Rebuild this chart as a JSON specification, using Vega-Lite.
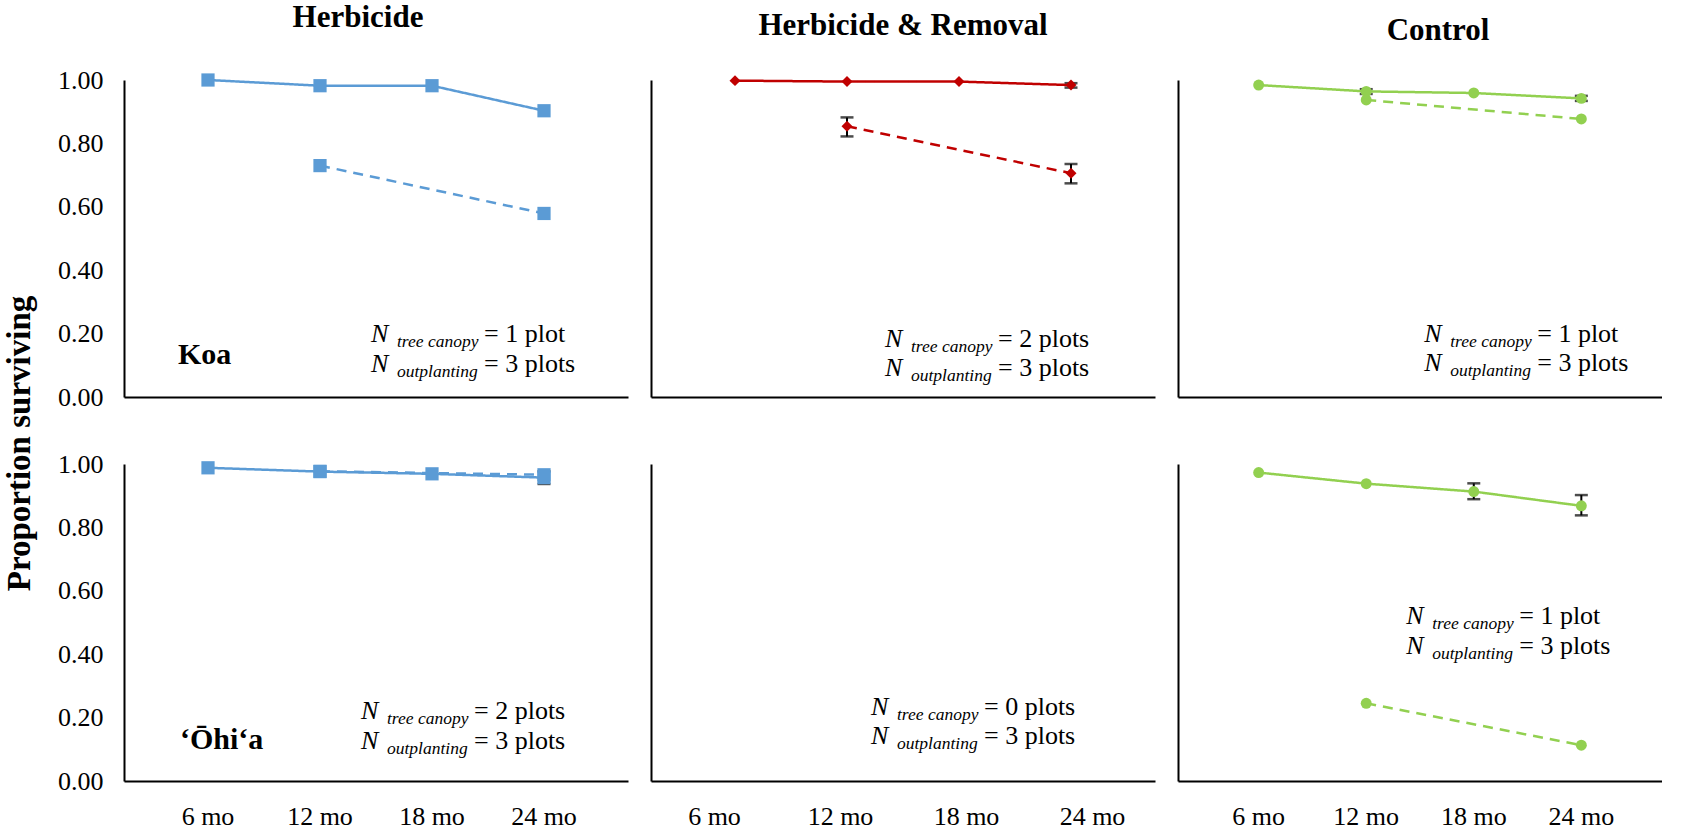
{
"$schema":"https://vega.github.io/schema/vega-lite/v6.json",
"padding":{"left":3,"top":2,"right":0,"bottom":0},
"background":"white",
"title":{"text":"Proportion surviving","orient":"left","anchor":"middle","fontSize":33,"offset":21,"dx":-28},
"config":{
 "font":"Liberation Serif",
 "view":{"stroke":null},
 "text":{"font":"Liberation Serif"},
 "axis":{"domainColor":"black","domainWidth":2,"ticks":false,"grid":false,"labelFont":"Liberation Serif","labelFontSize":26,"labelColor":"black"},
 "axisX":{"labelPadding":22,"labelAngle":0,"labelFont":"Liberation Serif"},
 "axisY":{"labelPadding":21,"labelFont":"Liberation Serif"},
 "title":{"font":"Liberation Serif","fontSize":31,"fontWeight":"bold","color":"black","offset":33}
},
"datasets":{
 "surv":[
  {"species":"Koa","treatment":"Herbicide","series":"outplanting","month":"6 mo","value":1.0},
  {"species":"Koa","treatment":"Herbicide","series":"outplanting","month":"12 mo","value":0.982},
  {"species":"Koa","treatment":"Herbicide","series":"outplanting","month":"18 mo","value":0.982},
  {"species":"Koa","treatment":"Herbicide","series":"outplanting","month":"24 mo","value":0.903},
  {"species":"Koa","treatment":"Herbicide","series":"tree canopy","month":"12 mo","value":0.73},
  {"species":"Koa","treatment":"Herbicide","series":"tree canopy","month":"24 mo","value":0.579},
  {"species":"Koa","treatment":"Herbicide & Removal","series":"outplanting","month":"6 mo","value":0.998},
  {"species":"Koa","treatment":"Herbicide & Removal","series":"outplanting","month":"12 mo","value":0.995},
  {"species":"Koa","treatment":"Herbicide & Removal","series":"outplanting","month":"18 mo","value":0.995},
  {"species":"Koa","treatment":"Herbicide & Removal","series":"outplanting","month":"24 mo","value":0.984},
  {"species":"Koa","treatment":"Herbicide & Removal","series":"tree canopy","month":"12 mo","value":0.854},
  {"species":"Koa","treatment":"Herbicide & Removal","series":"tree canopy","month":"24 mo","value":0.706},
  {"species":"Koa","treatment":"Control","series":"outplanting","month":"6 mo","value":0.984},
  {"species":"Koa","treatment":"Control","series":"outplanting","month":"12 mo","value":0.964},
  {"species":"Koa","treatment":"Control","series":"outplanting","month":"18 mo","value":0.959},
  {"species":"Koa","treatment":"Control","series":"outplanting","month":"24 mo","value":0.942},
  {"species":"Koa","treatment":"Control","series":"tree canopy","month":"12 mo","value":0.937},
  {"species":"Koa","treatment":"Control","series":"tree canopy","month":"24 mo","value":0.877},
  {"species":"‘Ōhi‘a","treatment":"Herbicide","series":"outplanting","month":"6 mo","value":0.988},
  {"species":"‘Ōhi‘a","treatment":"Herbicide","series":"outplanting","month":"12 mo","value":0.976},
  {"species":"‘Ōhi‘a","treatment":"Herbicide","series":"outplanting","month":"18 mo","value":0.969},
  {"species":"‘Ōhi‘a","treatment":"Herbicide","series":"outplanting","month":"24 mo","value":0.957},
  {"species":"‘Ōhi‘a","treatment":"Herbicide","series":"tree canopy","month":"12 mo","value":0.977},
  {"species":"‘Ōhi‘a","treatment":"Herbicide","series":"tree canopy","month":"24 mo","value":0.966},
  {"species":"‘Ōhi‘a","treatment":"Control","series":"outplanting","month":"6 mo","value":0.973},
  {"species":"‘Ōhi‘a","treatment":"Control","series":"outplanting","month":"12 mo","value":0.938},
  {"species":"‘Ōhi‘a","treatment":"Control","series":"outplanting","month":"18 mo","value":0.913},
  {"species":"‘Ōhi‘a","treatment":"Control","series":"outplanting","month":"24 mo","value":0.868},
  {"species":"‘Ōhi‘a","treatment":"Control","series":"tree canopy","month":"12 mo","value":0.245},
  {"species":"‘Ōhi‘a","treatment":"Control","series":"tree canopy","month":"24 mo","value":0.113}
 ],
 "err":[
  {"species":"Koa","treatment":"Herbicide & Removal","series":"outplanting","month":"24 mo","lo":0.976,"hi":0.99},
  {"species":"Koa","treatment":"Herbicide & Removal","series":"tree canopy","month":"12 mo","lo":0.822,"hi":0.882},
  {"species":"Koa","treatment":"Herbicide & Removal","series":"tree canopy","month":"24 mo","lo":0.674,"hi":0.735},
  {"species":"Koa","treatment":"Control","series":"outplanting","month":"12 mo","lo":0.956,"hi":0.971},
  {"species":"Koa","treatment":"Control","series":"outplanting","month":"24 mo","lo":0.934,"hi":0.95},
  {"species":"‘Ōhi‘a","treatment":"Herbicide","series":"outplanting","month":"24 mo","lo":0.937,"hi":0.977},
  {"species":"‘Ōhi‘a","treatment":"Control","series":"outplanting","month":"18 mo","lo":0.889,"hi":0.939},
  {"species":"‘Ōhi‘a","treatment":"Control","series":"outplanting","month":"24 mo","lo":0.838,"hi":0.902}
 ],
 "notes":[
  {"species":"Koa","treatment":"Herbicide","canopy":"= 1 plot","outplanting":"= 3 plots"},
  {"species":"Koa","treatment":"Herbicide & Removal","canopy":"= 2 plots","outplanting":"= 3 plots"},
  {"species":"Koa","treatment":"Control","canopy":"= 1 plot","outplanting":"= 3 plots"},
  {"species":"‘Ōhi‘a","treatment":"Herbicide","canopy":"= 2 plots","outplanting":"= 3 plots"},
  {"species":"‘Ōhi‘a","treatment":"Herbicide & Removal","canopy":"= 0 plots","outplanting":"= 3 plots"},
  {"species":"‘Ōhi‘a","treatment":"Control","canopy":"= 1 plot","outplanting":"= 3 plots"}
 ]
},
"spacing":41,
"vconcat":[
{"spacing":23,"hconcat":[
 {"width":504,"height":317,"title":{"text":"Herbicide","dx":-18},
  "layer":[
   {"data":{"name":"err"},"transform":[{"filter":"datum.species=='Koa'&&datum.treatment=='Herbicide'"}],
    "encoding":{"x":{"field":"month","type":"nominal","sort":null,"scale":{"domain":["6 mo","12 mo","18 mo","24 mo"],"padding":0.5},"axis":{"labels":false,"title":null}},"y":{"field":"lo","type":"quantitative","scale":{"domain":[0,1],"nice":false},"axis":{"title":null,"values":[0,0.2,0.4,0.6,0.8,1],"format":".2f"}}},
    "layer":[
     {"mark":{"type":"rule","color":"black","strokeWidth":2},"encoding":{"y2":{"field":"hi"}}},
     {"mark":{"type":"tick","color":"black","size":13,"thickness":2.5}},
     {"mark":{"type":"tick","color":"black","size":13,"thickness":2.5},"encoding":{"y":{"field":"hi","type":"quantitative"}}}
    ]},
   {"data":{"name":"surv"},"transform":[{"filter":"datum.species=='Koa'&&datum.treatment=='Herbicide'"}],
    "encoding":{"x":{"field":"month","type":"nominal","sort":null,"scale":{"domain":["6 mo","12 mo","18 mo","24 mo"],"padding":0.5},"axis":{"labels":false,"title":null}},"y":{"field":"value","type":"quantitative","scale":{"domain":[0,1],"nice":false},"axis":{"title":null,"values":[0,0.2,0.4,0.6,0.8,1],"format":".2f"}}},
    "layer":[
     {"mark":{"type":"line","color":"#5B9BD5","strokeWidth":2.5},"encoding":{"strokeDash":{"field":"series","type":"nominal","scale":{"domain":["outplanting","tree canopy"],"range":[[1,0],[10,7]]},"legend":null}}},
     {"mark":{"type":"point","shape":"square","filled":true,"opacity":1,"size":175,"color":"#5B9BD5"}}
    ]},
   {"data":{"name":"notes"},"transform":[{"filter":"datum.species=='Koa'&&datum.treatment=='Herbicide'"}],
    "layer":[
     {"mark":{"type":"text","font":"Liberation Serif","fontWeight":"bold","fontSize":30,"align":"left","baseline":"alphabetic","dx":-30,"color":"black"},"encoding":{"x":{"datum":"6 mo"},"y":{"datum":0.104},"text":{"field":"species"}}},
     {"mark":{"type":"text","font":"Liberation Serif","fontStyle":"italic","fontSize":26,"align":"left","baseline":"alphabetic","dx":51,"color":"black"},"encoding":{"x":{"datum":"12 mo"},"y":{"datum":0.173},"text":{"value":"N"}}},
     {"mark":{"type":"text","font":"Liberation Serif","fontStyle":"italic","fontSize":17.5,"align":"left","baseline":"alphabetic","dx":77,"dy":5,"color":"black"},"encoding":{"x":{"datum":"12 mo"},"y":{"datum":0.173},"text":{"value":"tree canopy"}}},
     {"mark":{"type":"text","font":"Liberation Serif","fontSize":26,"align":"left","baseline":"alphabetic","dx":164,"color":"black"},"encoding":{"x":{"datum":"12 mo"},"y":{"datum":0.173},"text":{"field":"canopy"}}},
     {"mark":{"type":"text","font":"Liberation Serif","fontStyle":"italic","fontSize":26,"align":"left","baseline":"alphabetic","dx":51,"color":"black"},"encoding":{"x":{"datum":"12 mo"},"y":{"datum":0.079},"text":{"value":"N"}}},
     {"mark":{"type":"text","font":"Liberation Serif","fontStyle":"italic","fontSize":17.5,"align":"left","baseline":"alphabetic","dx":77,"dy":5,"color":"black"},"encoding":{"x":{"datum":"12 mo"},"y":{"datum":0.079},"text":{"value":"outplanting"}}},
     {"mark":{"type":"text","font":"Liberation Serif","fontSize":26,"align":"left","baseline":"alphabetic","dx":164,"color":"black"},"encoding":{"x":{"datum":"12 mo"},"y":{"datum":0.079},"text":{"field":"outplanting"}}}
    ]}
  ]},
 {"width":504,"height":317,"title":{"text":"Herbicide & Removal"},
  "layer":[
   {"data":{"name":"err"},"transform":[{"filter":"datum.species=='Koa'&&datum.treatment=='Herbicide & Removal'"}],
    "encoding":{"x":{"field":"month","type":"nominal","sort":null,"scale":{"domain":["6 mo","12 mo","18 mo","24 mo"],"padding":0.5},"axis":{"labels":false,"title":null}},"y":{"field":"lo","type":"quantitative","scale":{"domain":[0,1],"nice":false},"axis":{"title":null,"labels":false}}},
    "layer":[
     {"mark":{"type":"rule","color":"black","strokeWidth":2},"encoding":{"y2":{"field":"hi"}}},
     {"mark":{"type":"tick","color":"black","size":13,"thickness":2.5}},
     {"mark":{"type":"tick","color":"black","size":13,"thickness":2.5},"encoding":{"y":{"field":"hi","type":"quantitative"}}}
    ]},
   {"data":{"name":"surv"},"transform":[{"filter":"datum.species=='Koa'&&datum.treatment=='Herbicide & Removal'"}],
    "encoding":{"x":{"field":"month","type":"nominal","sort":null,"scale":{"domain":["6 mo","12 mo","18 mo","24 mo"],"padding":0.5},"axis":{"labels":false,"title":null}},"y":{"field":"value","type":"quantitative","scale":{"domain":[0,1],"nice":false},"axis":{"title":null,"labels":false}}},
    "layer":[
     {"mark":{"type":"line","color":"#C00000","strokeWidth":2.5},"encoding":{"strokeDash":{"field":"series","type":"nominal","scale":{"domain":["outplanting","tree canopy"],"range":[[1,0],[10,7]]},"legend":null}}},
     {"mark":{"type":"point","shape":"diamond","filled":true,"opacity":1,"size":120,"color":"#C00000"}}
    ]},
   {"data":{"name":"notes"},"transform":[{"filter":"datum.species=='Koa'&&datum.treatment=='Herbicide & Removal'"}],
    "layer":[
     {"mark":{"type":"text","font":"Liberation Serif","fontStyle":"italic","fontSize":26,"align":"left","baseline":"alphabetic","dx":38,"color":"black"},"encoding":{"x":{"datum":"12 mo"},"y":{"datum":0.158},"text":{"value":"N"}}},
     {"mark":{"type":"text","font":"Liberation Serif","fontStyle":"italic","fontSize":17.5,"align":"left","baseline":"alphabetic","dx":64,"dy":5,"color":"black"},"encoding":{"x":{"datum":"12 mo"},"y":{"datum":0.158},"text":{"value":"tree canopy"}}},
     {"mark":{"type":"text","font":"Liberation Serif","fontSize":26,"align":"left","baseline":"alphabetic","dx":151,"color":"black"},"encoding":{"x":{"datum":"12 mo"},"y":{"datum":0.158},"text":{"field":"canopy"}}},
     {"mark":{"type":"text","font":"Liberation Serif","fontStyle":"italic","fontSize":26,"align":"left","baseline":"alphabetic","dx":38,"color":"black"},"encoding":{"x":{"datum":"12 mo"},"y":{"datum":0.066},"text":{"value":"N"}}},
     {"mark":{"type":"text","font":"Liberation Serif","fontStyle":"italic","fontSize":17.5,"align":"left","baseline":"alphabetic","dx":64,"dy":5,"color":"black"},"encoding":{"x":{"datum":"12 mo"},"y":{"datum":0.066},"text":{"value":"outplanting"}}},
     {"mark":{"type":"text","font":"Liberation Serif","fontSize":26,"align":"left","baseline":"alphabetic","dx":151,"color":"black"},"encoding":{"x":{"datum":"12 mo"},"y":{"datum":0.066},"text":{"field":"outplanting"}}}
    ]}
  ]},
 {"width":484,"height":317,"title":{"text":"Control","dx":18},
  "layer":[
   {"data":{"name":"err"},"transform":[{"filter":"datum.species=='Koa'&&datum.treatment=='Control'"}],
    "encoding":{"x":{"field":"month","type":"nominal","sort":null,"scale":{"domain":["6 mo","12 mo","18 mo","24 mo"],"padding":0.5},"axis":{"labels":false,"title":null}},"y":{"field":"lo","type":"quantitative","scale":{"domain":[0,1],"nice":false},"axis":{"title":null,"labels":false}}},
    "layer":[
     {"mark":{"type":"rule","color":"black","strokeWidth":2},"encoding":{"y2":{"field":"hi"}}},
     {"mark":{"type":"tick","color":"black","size":13,"thickness":2.5}},
     {"mark":{"type":"tick","color":"black","size":13,"thickness":2.5},"encoding":{"y":{"field":"hi","type":"quantitative"}}}
    ]},
   {"data":{"name":"surv"},"transform":[{"filter":"datum.species=='Koa'&&datum.treatment=='Control'"}],
    "encoding":{"x":{"field":"month","type":"nominal","sort":null,"scale":{"domain":["6 mo","12 mo","18 mo","24 mo"],"padding":0.5},"axis":{"labels":false,"title":null}},"y":{"field":"value","type":"quantitative","scale":{"domain":[0,1],"nice":false},"axis":{"title":null,"labels":false}}},
    "layer":[
     {"mark":{"type":"line","color":"#92D050","strokeWidth":2.5},"encoding":{"strokeDash":{"field":"series","type":"nominal","scale":{"domain":["outplanting","tree canopy"],"range":[[1,0],[10,7]]},"legend":null}}},
     {"mark":{"type":"point","shape":"circle","filled":true,"opacity":1,"size":120,"color":"#92D050"}}
    ]},
   {"data":{"name":"notes"},"transform":[{"filter":"datum.species=='Koa'&&datum.treatment=='Control'"}],
    "layer":[
     {"mark":{"type":"text","font":"Liberation Serif","fontStyle":"italic","fontSize":26,"align":"left","baseline":"alphabetic","dx":58,"color":"black"},"encoding":{"x":{"datum":"12 mo"},"y":{"datum":0.173},"text":{"value":"N"}}},
     {"mark":{"type":"text","font":"Liberation Serif","fontStyle":"italic","fontSize":17.5,"align":"left","baseline":"alphabetic","dx":84,"dy":5,"color":"black"},"encoding":{"x":{"datum":"12 mo"},"y":{"datum":0.173},"text":{"value":"tree canopy"}}},
     {"mark":{"type":"text","font":"Liberation Serif","fontSize":26,"align":"left","baseline":"alphabetic","dx":171,"color":"black"},"encoding":{"x":{"datum":"12 mo"},"y":{"datum":0.173},"text":{"field":"canopy"}}},
     {"mark":{"type":"text","font":"Liberation Serif","fontStyle":"italic","fontSize":26,"align":"left","baseline":"alphabetic","dx":58,"color":"black"},"encoding":{"x":{"datum":"12 mo"},"y":{"datum":0.082},"text":{"value":"N"}}},
     {"mark":{"type":"text","font":"Liberation Serif","fontStyle":"italic","fontSize":17.5,"align":"left","baseline":"alphabetic","dx":84,"dy":5,"color":"black"},"encoding":{"x":{"datum":"12 mo"},"y":{"datum":0.082},"text":{"value":"outplanting"}}},
     {"mark":{"type":"text","font":"Liberation Serif","fontSize":26,"align":"left","baseline":"alphabetic","dx":171,"color":"black"},"encoding":{"x":{"datum":"12 mo"},"y":{"datum":0.082},"text":{"field":"outplanting"}}}
    ]}
  ]}
]},
{"spacing":23,"hconcat":[
 {"width":504,"height":317,
  "layer":[
   {"data":{"name":"err"},"transform":[{"filter":"datum.species=='‘Ōhi‘a'&&datum.treatment=='Herbicide'"}],
    "encoding":{"x":{"field":"month","type":"nominal","sort":null,"scale":{"domain":["6 mo","12 mo","18 mo","24 mo"],"padding":0.5},"axis":{"title":null}},"y":{"field":"lo","type":"quantitative","scale":{"domain":[0,1],"nice":false},"axis":{"title":null,"values":[0,0.2,0.4,0.6,0.8,1],"format":".2f"}}},
    "layer":[
     {"mark":{"type":"rule","color":"black","strokeWidth":2},"encoding":{"y2":{"field":"hi"}}},
     {"mark":{"type":"tick","color":"black","size":13,"thickness":2.5}},
     {"mark":{"type":"tick","color":"black","size":13,"thickness":2.5},"encoding":{"y":{"field":"hi","type":"quantitative"}}}
    ]},
   {"data":{"name":"surv"},"transform":[{"filter":"datum.species=='‘Ōhi‘a'&&datum.treatment=='Herbicide'"}],
    "encoding":{"x":{"field":"month","type":"nominal","sort":null,"scale":{"domain":["6 mo","12 mo","18 mo","24 mo"],"padding":0.5},"axis":{"title":null}},"y":{"field":"value","type":"quantitative","scale":{"domain":[0,1],"nice":false},"axis":{"title":null,"values":[0,0.2,0.4,0.6,0.8,1],"format":".2f"}}},
    "layer":[
     {"mark":{"type":"line","color":"#5B9BD5","strokeWidth":2.5},"encoding":{"strokeDash":{"field":"series","type":"nominal","scale":{"domain":["outplanting","tree canopy"],"range":[[1,0],[10,7]]},"legend":null}}},
     {"mark":{"type":"point","shape":"square","filled":true,"opacity":1,"size":175,"color":"#5B9BD5"}}
    ]},
   {"data":{"name":"notes"},"transform":[{"filter":"datum.species=='‘Ōhi‘a'&&datum.treatment=='Herbicide'"}],
    "layer":[
     {"mark":{"type":"text","font":"Liberation Serif","fontWeight":"bold","fontSize":30,"align":"left","baseline":"alphabetic","dx":-28,"color":"black"},"encoding":{"x":{"datum":"6 mo"},"y":{"datum":0.101},"text":{"field":"species"}}},
     {"mark":{"type":"text","font":"Liberation Serif","fontStyle":"italic","fontSize":26,"align":"left","baseline":"alphabetic","dx":41,"color":"black"},"encoding":{"x":{"datum":"12 mo"},"y":{"datum":0.196},"text":{"value":"N"}}},
     {"mark":{"type":"text","font":"Liberation Serif","fontStyle":"italic","fontSize":17.5,"align":"left","baseline":"alphabetic","dx":67,"dy":5,"color":"black"},"encoding":{"x":{"datum":"12 mo"},"y":{"datum":0.196},"text":{"value":"tree canopy"}}},
     {"mark":{"type":"text","font":"Liberation Serif","fontSize":26,"align":"left","baseline":"alphabetic","dx":154,"color":"black"},"encoding":{"x":{"datum":"12 mo"},"y":{"datum":0.196},"text":{"field":"canopy"}}},
     {"mark":{"type":"text","font":"Liberation Serif","fontStyle":"italic","fontSize":26,"align":"left","baseline":"alphabetic","dx":41,"color":"black"},"encoding":{"x":{"datum":"12 mo"},"y":{"datum":0.101},"text":{"value":"N"}}},
     {"mark":{"type":"text","font":"Liberation Serif","fontStyle":"italic","fontSize":17.5,"align":"left","baseline":"alphabetic","dx":67,"dy":5,"color":"black"},"encoding":{"x":{"datum":"12 mo"},"y":{"datum":0.101},"text":{"value":"outplanting"}}},
     {"mark":{"type":"text","font":"Liberation Serif","fontSize":26,"align":"left","baseline":"alphabetic","dx":154,"color":"black"},"encoding":{"x":{"datum":"12 mo"},"y":{"datum":0.101},"text":{"field":"outplanting"}}}
    ]}
  ]},
 {"width":504,"height":317,
  "layer":[
   {"data":{"name":"surv"},"transform":[{"filter":"datum.species=='‘Ōhi‘a'&&datum.treatment=='Herbicide & Removal'"}],
    "encoding":{"x":{"field":"month","type":"nominal","sort":null,"scale":{"domain":["6 mo","12 mo","18 mo","24 mo"],"padding":0.5},"axis":{"title":null}},"y":{"field":"value","type":"quantitative","scale":{"domain":[0,1],"nice":false},"axis":{"title":null,"labels":false}}},
    "layer":[
     {"mark":{"type":"line","color":"#C00000","strokeWidth":2.5},"encoding":{"strokeDash":{"field":"series","type":"nominal","scale":{"domain":["outplanting","tree canopy"],"range":[[1,0],[10,7]]},"legend":null}}},
     {"mark":{"type":"point","shape":"diamond","filled":true,"opacity":1,"size":120,"color":"#C00000"}}
    ]},
   {"data":{"name":"notes"},"transform":[{"filter":"datum.species=='‘Ōhi‘a'&&datum.treatment=='Herbicide & Removal'"}],
    "layer":[
     {"mark":{"type":"text","font":"Liberation Serif","fontStyle":"italic","fontSize":26,"align":"left","baseline":"alphabetic","dx":31,"color":"black"},"encoding":{"x":{"datum":"12 mo"},"y":{"datum":0.208},"text":{"value":"N"}}},
     {"mark":{"type":"text","font":"Liberation Serif","fontStyle":"italic","fontSize":17.5,"align":"left","baseline":"alphabetic","dx":57,"dy":5,"color":"black"},"encoding":{"x":{"datum":"12 mo"},"y":{"datum":0.208},"text":{"value":"tree canopy"}}},
     {"mark":{"type":"text","font":"Liberation Serif","fontSize":26,"align":"left","baseline":"alphabetic","dx":144,"color":"black"},"encoding":{"x":{"datum":"12 mo"},"y":{"datum":0.208},"text":{"field":"canopy"}}},
     {"mark":{"type":"text","font":"Liberation Serif","fontStyle":"italic","fontSize":26,"align":"left","baseline":"alphabetic","dx":31,"color":"black"},"encoding":{"x":{"datum":"12 mo"},"y":{"datum":0.117},"text":{"value":"N"}}},
     {"mark":{"type":"text","font":"Liberation Serif","fontStyle":"italic","fontSize":17.5,"align":"left","baseline":"alphabetic","dx":57,"dy":5,"color":"black"},"encoding":{"x":{"datum":"12 mo"},"y":{"datum":0.117},"text":{"value":"outplanting"}}},
     {"mark":{"type":"text","font":"Liberation Serif","fontSize":26,"align":"left","baseline":"alphabetic","dx":144,"color":"black"},"encoding":{"x":{"datum":"12 mo"},"y":{"datum":0.117},"text":{"field":"outplanting"}}}
    ]}
  ]},
 {"width":484,"height":317,
  "layer":[
   {"data":{"name":"err"},"transform":[{"filter":"datum.species=='‘Ōhi‘a'&&datum.treatment=='Control'"}],
    "encoding":{"x":{"field":"month","type":"nominal","sort":null,"scale":{"domain":["6 mo","12 mo","18 mo","24 mo"],"padding":0.5},"axis":{"title":null}},"y":{"field":"lo","type":"quantitative","scale":{"domain":[0,1],"nice":false},"axis":{"title":null,"labels":false}}},
    "layer":[
     {"mark":{"type":"rule","color":"black","strokeWidth":2},"encoding":{"y2":{"field":"hi"}}},
     {"mark":{"type":"tick","color":"black","size":13,"thickness":2.5}},
     {"mark":{"type":"tick","color":"black","size":13,"thickness":2.5},"encoding":{"y":{"field":"hi","type":"quantitative"}}}
    ]},
   {"data":{"name":"surv"},"transform":[{"filter":"datum.species=='‘Ōhi‘a'&&datum.treatment=='Control'"}],
    "encoding":{"x":{"field":"month","type":"nominal","sort":null,"scale":{"domain":["6 mo","12 mo","18 mo","24 mo"],"padding":0.5},"axis":{"title":null}},"y":{"field":"value","type":"quantitative","scale":{"domain":[0,1],"nice":false},"axis":{"title":null,"labels":false}}},
    "layer":[
     {"mark":{"type":"line","color":"#92D050","strokeWidth":2.5},"encoding":{"strokeDash":{"field":"series","type":"nominal","scale":{"domain":["outplanting","tree canopy"],"range":[[1,0],[10,7]]},"legend":null}}},
     {"mark":{"type":"point","shape":"circle","filled":true,"opacity":1,"size":120,"color":"#92D050"}}
    ]},
   {"data":{"name":"notes"},"transform":[{"filter":"datum.species=='‘Ōhi‘a'&&datum.treatment=='Control'"}],
    "layer":[
     {"mark":{"type":"text","font":"Liberation Serif","fontStyle":"italic","fontSize":26,"align":"left","baseline":"alphabetic","dx":40,"color":"black"},"encoding":{"x":{"datum":"12 mo"},"y":{"datum":0.495},"text":{"value":"N"}}},
     {"mark":{"type":"text","font":"Liberation Serif","fontStyle":"italic","fontSize":17.5,"align":"left","baseline":"alphabetic","dx":66,"dy":5,"color":"black"},"encoding":{"x":{"datum":"12 mo"},"y":{"datum":0.495},"text":{"value":"tree canopy"}}},
     {"mark":{"type":"text","font":"Liberation Serif","fontSize":26,"align":"left","baseline":"alphabetic","dx":153,"color":"black"},"encoding":{"x":{"datum":"12 mo"},"y":{"datum":0.495},"text":{"field":"canopy"}}},
     {"mark":{"type":"text","font":"Liberation Serif","fontStyle":"italic","fontSize":26,"align":"left","baseline":"alphabetic","dx":40,"color":"black"},"encoding":{"x":{"datum":"12 mo"},"y":{"datum":0.40},"text":{"value":"N"}}},
     {"mark":{"type":"text","font":"Liberation Serif","fontStyle":"italic","fontSize":17.5,"align":"left","baseline":"alphabetic","dx":66,"dy":5,"color":"black"},"encoding":{"x":{"datum":"12 mo"},"y":{"datum":0.40},"text":{"value":"outplanting"}}},
     {"mark":{"type":"text","font":"Liberation Serif","fontSize":26,"align":"left","baseline":"alphabetic","dx":153,"color":"black"},"encoding":{"x":{"datum":"12 mo"},"y":{"datum":0.40},"text":{"field":"outplanting"}}}
    ]}
  ]}
]}
]
}
